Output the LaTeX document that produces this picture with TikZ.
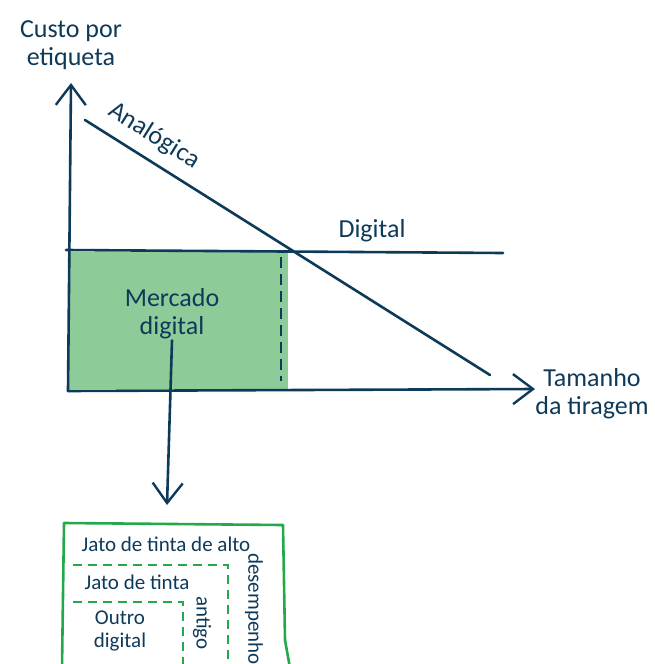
\documentclass[tikz,border=0pt]{standalone}
\usepackage{fontspec}
\setmainfont{Carlito}
\usetikzlibrary{arrows.meta}
\definecolor{tinta}{HTML}{0E3A5A}
\definecolor{verdeclaro}{HTML}{8DCB98}
\definecolor{verde}{HTML}{23A94A}

\begin{document}
\begin{tikzpicture}[x=1pt,y=-1pt,
  linha/.style={draw=tinta, line width=2.6pt, line cap=round},
  seta/.style={-{Straight Barb[length=20pt,width=30pt,line width=2.4pt]}},
  rotulo/.style={text=tinta, font=\fontsize{26}{28}\selectfont, align=center, inner sep=1pt},
  texto/.style={text=tinta, font=\fontsize{21}{23}\selectfont, align=center, inner sep=1pt},
  tracejado/.style={draw=verde, line width=2.4pt, dash pattern=on 9pt off 6pt}]
  \useasboundingbox (0,0) rectangle (654,664);

  % Area do mercado digital
  \fill[verdeclaro] (68,252) rectangle (288,389);

  % Eixos
  \coordinate (origem) at (68,391);
  \coordinate (ytopo) at (71,83);
  \coordinate (xfim) at (535,389);
  \draw[linha,seta] (origem) -- (ytopo);
  \draw[linha,seta] (origem) -- (xfim);
  \node[rotulo] (custo) at (71,45) {Custo por\\etiqueta};
  \node[rotulo] (tiragem) at (592,394) {Tamanho\\da tiragem};

  % Curvas de custo
  \coordinate (a1) at (85,120);
  \coordinate (a2) at (490,375);
  \coordinate (d1) at (66,250);
  \coordinate (d2) at (503,253);
  \draw[linha] (a1) -- (a2);
  \draw[linha] (d1) -- (d2);
  \node[rotulo, rotate=-32] (analogica) at (154,136) {Analógica};
  \node[rotulo] (digital) at (372,231) {Digital};

  % Limite do mercado digital
  \coordinate (lim1) at (281,257);
  \coordinate (lim2) at (281,381);
  \draw[draw=tinta, line width=2.4pt, dash pattern=on 11pt off 6pt] (lim1) -- (lim2);
  \node[rotulo] (mercado) at (172,314) {Mercado\\digital};

  % Seta para o detalhe
  \coordinate (detalhe) at (167,505);
  \draw[linha,seta] (mercado.south) -- (detalhe);

  % Caixa de detalhe
  \draw[draw=verde, line width=2.6pt, line join=round] (62,668) -- (64,523) -- (283,525) -- (285,640) -- (290,668);
  \foreach \x/\y in {228/565, 183/602}{
    \draw[tracejado] (73,\y) -- (\x,\y) -- (\x,668);
  }
  \node[texto] (alto) at (166,544) {Jato de tinta de alto};
  \node[texto, rotate=-90] (desempenho) at (254,609) {desempenho};
  \node[texto] (jato) at (137,582) {Jato de tinta};
  \node[texto, rotate=-90] (antigo) at (202,623) {antigo};
  \node[texto] (outro) at (120,631) {Outro\\digital};
\end{tikzpicture}
\end{document}
